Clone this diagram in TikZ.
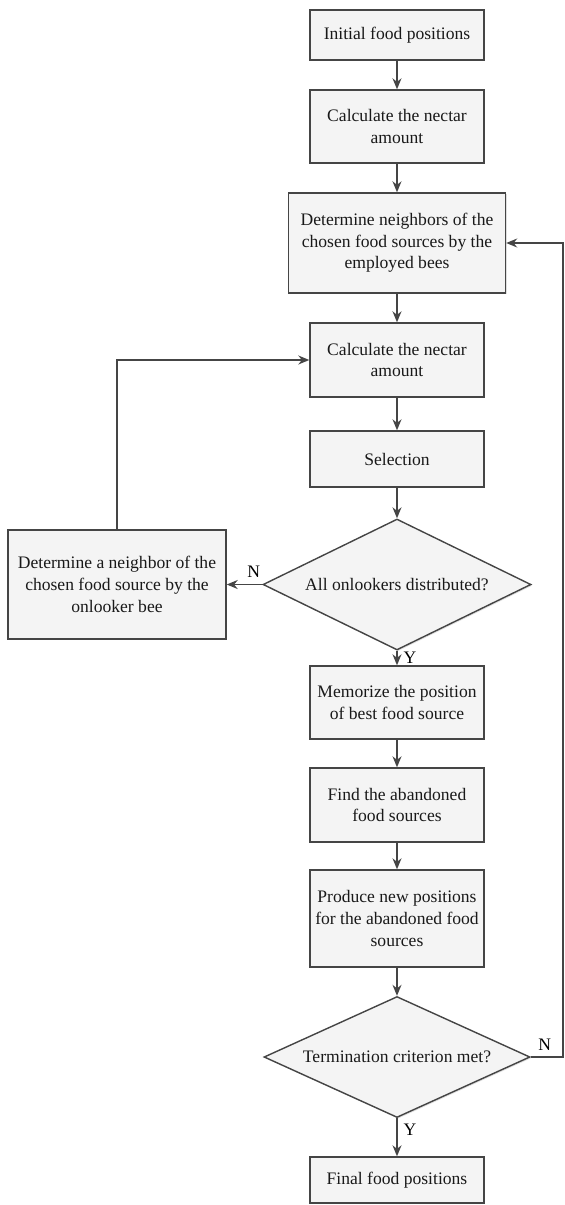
\documentclass[tikz,border=0pt]{standalone}
\usepackage{fontspec}
\setmainfont{Liberation Serif}
\usepackage{tikz}
\usetikzlibrary{arrows.meta}
\usetikzlibrary{shapes.geometric}
\usetikzlibrary{shadows}
\definecolor{edge}{HTML}{454545}
\definecolor{boxfill}{HTML}{F4F4F4}
\tikzset{proc/.style = {draw = edge, fill = boxfill, line width = 0.8pt, align = center, minimum width = 3.48cm, inner sep = 0, text = black!90, font = \rmfamily\fontsize{10}{12.3}\selectfont, drop shadow = {shadow xshift = 0.7pt, shadow yshift = -0.7pt, opacity = 0.25}}}
\tikzset{cond/.style = {proc, diamond, aspect = 2.2, minimum width = 5.32cm, minimum height = 2.42cm}}
\tikzset{flow/.style = {draw = edge, line width = 0.8pt, -{Stealth[length = 2.2mm, width = 1.8mm]}}}

\begin{document}
\begin{tikzpicture}[font = \rmfamily\fontsize{10}{12.3}\selectfont]
      \useasboundingbox (0, 0) rectangle (11.3, -24.1);
      \node [proc, minimum height = 1cm] (init) at (7.94, -0.70) {Initial food positions};
      \node [proc, minimum height = 1.46cm] (nectar1) at (7.94, -2.53) {Calculate the nectar\\amount};
      \node [proc, minimum width = 4.34cm, minimum height = 2cm] (employed) at (7.94, -4.86) {Determine neighbors of the\\chosen food sources by the\\employed bees};
      \node [proc, minimum height = 1.48cm] (nectar2) at (7.94, -7.20) {Calculate the nectar\\amount};
      \node [proc, minimum height = 1.12cm] (select) at (7.94, -9.18) {Selection};
      \node [cond, minimum width = 5.36cm, minimum height = 2.62cm] (allon) at (7.94, -11.69) {All onlookers distributed?};
      \node [proc, minimum width = 4.36cm, minimum height = 2.18cm] (onlooker) at (2.34, -11.69) {Determine a neighbor of the\\chosen food source by the\\onlooker bee};
      \node [proc, minimum height = 1.46cm] (memo) at (7.94, -14.05) {Memorize the position\\of best food source};
      \node [proc, minimum height = 1.48cm] (abandon) at (7.94, -16.10) {Find the abandoned\\food sources};
      \node [proc, minimum height = 1.94cm] (produce) at (7.94, -18.37) {Produce new positions\\for the abandoned food\\sources};
      \node [cond] (term) at (7.94, -21.14) {Termination criterion met?};
      \node [proc, minimum height = 0.92cm] (final) at (7.94, -23.60) {Final food positions};
      \coordinate (back) at (11.26, -21.14);
      % main line
      \draw [flow] (init) -- (nectar1);
      \draw [flow] (nectar1) -- (employed);
      \draw [flow] (employed) -- (nectar2);
      \draw [flow] (nectar2) -- (select);
      \draw [flow] (select) -- (allon);
      \draw [flow] (allon.west) -- node [above, pos = 0.24] {N} (onlooker.east);
      \draw [flow] (onlooker.north) |- (nectar2.west);
      \draw [flow] (allon.south) -- node [right, pos = 0.45] {Y} (memo.north);
      \draw [flow] (memo) -- (abandon);
      \draw [flow] (abandon) -- (produce);
      \draw [flow] (produce) -- (term);
      \draw [flow] (term.east) -- node [above, pos = 0.43] {N} (back) |- (employed.east);
      \draw [flow] (term.south) -- node [right, pos = 0.3] {Y} (final.north);
    \end{tikzpicture}
\end{document}
